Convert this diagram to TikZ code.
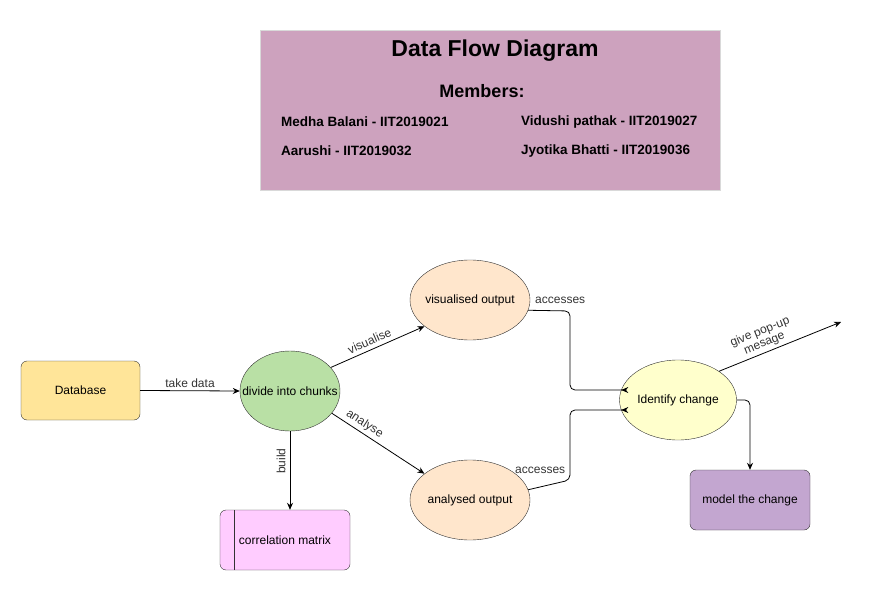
\documentclass[tikz,border=0pt]{standalone}
\usepackage{fontspec}
\setmainfont{Liberation Sans}
\usetikzlibrary{arrows.meta,shapes.geometric}
\definecolor{hdr}{HTML}{CDA2BE}
\definecolor{dbfill}{HTML}{FFE599}
\definecolor{grn}{HTML}{B9E0A5}
\definecolor{peach}{HTML}{FFE6CC}
\definecolor{lyel}{HTML}{FFFFCC}
\definecolor{purp}{HTML}{C3A6D0}
\definecolor{pink}{HTML}{FFCCFF}
\tikzset{
  every node/.style={font=\fontsize{12}{14}\selectfont},
  boxr/.style={draw=black!80, rounded corners=6pt, minimum width=119pt, minimum height=59pt, inner sep=0pt},
  proc/.style={draw=black!80, ellipse, inner sep=0pt},
  arr/.style={-{Stealth[length=7pt,width=6pt]}, line width=0.8pt, rounded corners=5pt},
  lbl/.style={text=black!80, inner sep=1pt},
  member/.style={font=\bfseries\fontsize{13.5}{15}\selectfont, anchor=west, inner sep=0pt}
}
\begin{document}
\begin{tikzpicture}[x=1pt,y=-1pt]
\useasboundingbox (0,0) rectangle (869,593);
% header
\node[draw=black!15, fill=hdr, minimum width=460pt, minimum height=160pt, inner sep=0pt] (hdr) at (490,110) {};
\node[font=\bfseries\fontsize{23}{26}\selectfont] (title) at (495,51) {Data Flow Diagram};
\node[font=\bfseries\fontsize{18}{20}\selectfont] (mem) at (482,91) {Members:};
\node[member] (m1) at (281,122) {Medha Balani - IIT2019021};
\node[member] (m2) at (521,122) {Vidushi pathak - IIT2019027};
\node[member] (m3) at (281,151) {Aarushi - IIT2019032};
\node[member] (m4) at (521,151) {Jyotika Bhatti - IIT2019036};
% nodes
\node[boxr, fill=dbfill] (db) at (80.5,390.5) {Database};
\node[proc, fill=grn, minimum width=100pt, minimum height=80pt] (div) at (290,391) {};
\node (divt) at (290,391) {divide into chunks};
\node[proc, fill=peach, minimum width=120pt, minimum height=80pt] (vis) at (470,300) {};
\node (vist) at (470,300) {visualised output};
\node[proc, fill=peach, minimum width=120pt, minimum height=80pt] (ana) at (470,500) {};
\node (anat) at (470,500) {analysed output};
\node[proc, fill=lyel, minimum width=117pt, minimum height=80pt] (idc) at (678,400) {};
\node (idct) at (678,400) {Identify change};
\node[boxr, fill=purp, minimum width=120pt, minimum height=60pt] (mod) at (750,500) {model the change};
\node[boxr, fill=pink, minimum width=130pt, minimum height=60pt] (cor) at (285,540) {};
\draw[black!80] (234,510) -- (234,570);
\node (cortxt) at (285,540) {correlation matrix};
\coordinate (popend) at (841,322);
% connectors
\draw[arr] (db.east) -- node[lbl, above=2pt] {take data} (div.west);
\draw[arr] (div.30) -- node[lbl, sloped, above=3pt, pos=0.45] {visualise} (vis.210);
\draw[arr] (div.-28) -- node[lbl, sloped, above=2pt, pos=0.3] {analyse} (ana.150);
\draw[arr] (div.south) -- (div.south |- cor.north);
\node[lbl, rotate=90] (bld) at (281,461) {build};
\draw[arr] (vis.-10) -- (570,311) -- (570,390) -- (idc.west |- 0,390) -- +(2,0);
\draw[arr] (ana.10) -- (570,480) -- (570,410) -- (idc.west |- 0,410) -- +(2,0);
\draw[arr] (idc.east) -- (750,400) -- (mod.north);
\draw[arr] (idc.35) -- node[lbl, sloped, above=2pt, pos=0.4, align=center, font=\fontsize{12}{12}\selectfont] {give pop-up\\mesage} (popend);
\node[lbl, anchor=west] (acc1) at (534,300) {accesses};
\node[lbl, anchor=west] (acc2) at (514,470) {accesses};
\end{tikzpicture}
\end{document}
